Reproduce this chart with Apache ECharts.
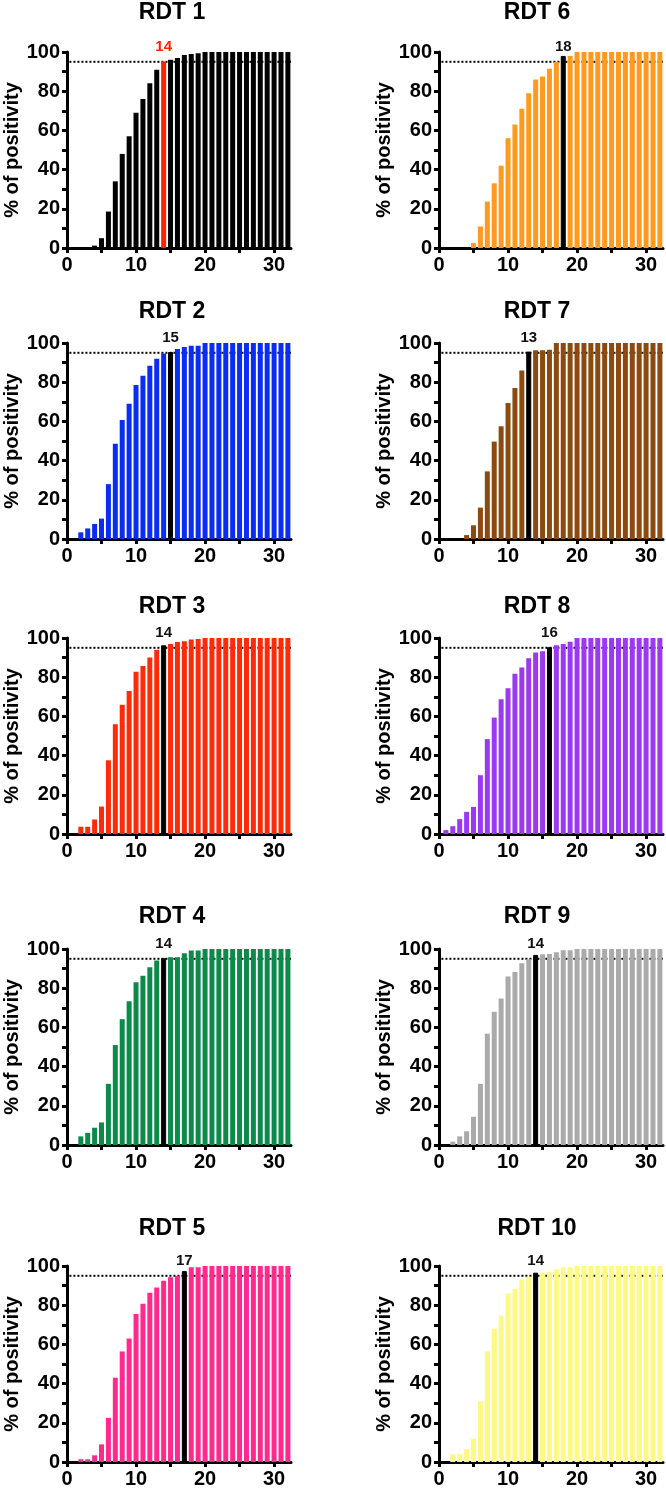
<!DOCTYPE html>
<html><head><meta charset="utf-8">
<script src="https://cdn.jsdelivr.net/npm/echarts@6/dist/echarts.min.js"></script>
<style>html,body{margin:0;padding:0;background:#fff}#c{width:666px;height:1491px}</style>
</head><body><div id="c"></div>
<script>
// ---- data ----
const days = [1,2,3,4,5,6,7,8,9,10,11,12,13,14,15,16,17,18,19,20,21,22,23,24,25,26,27,28,29,30,31,32];
const rdt1  = [0,0,0,1.2,5,18.6,34,48,57,69,76,84,91,95.2,96,97,98.5,99,99.3,100,100,100,100,100,100,100,100,100,100,100,100,100];
const rdt2  = [0,3.4,5.4,7.7,10.4,28,48.6,60.7,69,78.6,83.3,88.4,92,94.6,95.4,97,98,98.6,98.6,100,100,100,100,100,100,100,100,100,100,100,100,100];
const rdt3  = [0,3.7,3.7,7.4,14,37.6,56,66,73,82.8,85.7,90,94,96.3,97,98,98.3,99.2,99.5,100,100,100,100,100,100,100,100,100,100,100,100,100];
const rdt4  = [0,4.4,6.2,8.8,11.5,31.2,51,64.2,73.4,83,86.3,90.7,94.1,95.3,95.8,95.8,97.8,99.2,99.2,100,100,100,100,100,100,100,100,100,100,100,100,100];
const rdt5  = [0,1.4,1.4,3.4,9,22.5,43,56.4,63,75.5,80.7,86.4,89,92.5,94.2,94.9,97.4,99.3,99.3,100,100,100,100,100,100,100,100,100,100,100,100,100];
const rdt6  = [0,0,0,0,2.5,11,23.7,33,42,56,63,71,79,86,87.5,91.5,94.9,98,98,100,100,100,100,100,100,100,100,100,100,100,100,100];
const rdt7  = [0,0,0,2,7,16,34.5,49.7,57.5,69.4,77,86,95.6,96.3,96.3,96.6,100,100,100,100,100,100,100,100,100,100,100,100,100,100,100,100];
const rdt8  = [2,4,7.6,11.3,13.8,30,48.4,59.4,68.8,74.4,81.8,85,89.7,92.6,93.3,95.3,96.3,97,98.1,100,100,100,100,100,100,100,100,100,100,100,100,100];
const rdt9  = [0,1.7,4.4,7,14.4,31.2,56.8,68,74.7,86,88.3,92.7,94.8,97,97.3,97.5,98.3,99.3,99.3,100,100,100,100,100,100,100,100,100,100,100,100,100];
const rdt10 = [0,4,4,6.6,12,31,56.4,68,74.8,86,88.4,92.8,94.5,96.6,96.6,97,98.3,99.3,99.3,100,100,100,100,100,100,100,100,100,100,100,100,100];
const titles = ['RDT 1','RDT 2','RDT 3','RDT 4','RDT 5','RDT 6','RDT 7','RDT 8','RDT 9','RDT 10'];
const cutoffDays = [14,15,14,14,17,18,13,16,14,14];
const threshold = 95;
const xTickValues = [0,5,10,15,20,25,30];
const xLabelValues = [0,10,20,30];
const yTickValues = [0,10,20,30,40,50,60,70,80,90,100];
const yLabelValues = [0,20,40,60,80,100];
const yName = '% of positivity';

// ---- styling ----
const allValues = [rdt1,rdt2,rdt3,rdt4,rdt5,rdt6,rdt7,rdt8,rdt9,rdt10];
const barColors = ['#000000','#0a2df5','#ff2a08','#0b8a4a','#ff2a8c','#ff9a1e','#8a4a10','#9a38f2','#aaaaaa','#fdf982'];
const hiColors  = ['#ff2200','#000','#000','#000','#000','#000','#000','#000','#000','#000'];
const FONT = '"Liberation Sans", Arial, Helvetica, sans-serif';
const colLeft = [67, 439];
const colTitleX = [172, 537];
const rowTop = [52, 343, 638, 949, 1266];
const rowTitleY = [13, 311.5, 606.5, 916.5, 1229];
const GW = 224, GH = 196, XMAX = 32.45;

const grids = [], xAxes = [], yAxes = [], series = [], graphics = [];
for (let i = 0; i < 10; i++) {
  const col = i < 5 ? 0 : 1, row = i % 5;
  grids.push({left: colLeft[col], top: rowTop[row], width: GW, height: GH, containLabel: false});
  xAxes.push({
    type: 'value', gridIndex: i, min: 0, max: XMAX,
    axisLine: {show: true, onZero: false, lineStyle: {color: '#000', width: 3}},
    axisTick: {show: true, customValues: xTickValues, length: 5, lineStyle: {color: '#000', width: 3}},
    axisLabel: {customValues: xLabelValues, margin: 7, color: '#000', fontSize: 20, fontWeight: 'bold', fontFamily: FONT,
      formatter: v => (v % 10 === 0 ? String(v) : '')},
    splitLine: {show: false}
  });
  yAxes.push({
    type: 'value', gridIndex: i, min: 0, max: 100, interval: 10,
    name: yName, nameLocation: 'middle', nameGap: 44, nameRotate: 90,
    nameTextStyle: {color: '#000', fontSize: 20, fontWeight: 'bold', fontFamily: FONT},
    axisLine: {show: true, onZero: false, lineStyle: {color: '#000', width: 3}},
    axisTick: {show: true, customValues: yTickValues, length: 5, lineStyle: {color: '#000', width: 3}},
    axisLabel: {customValues: yLabelValues, margin: 7, color: '#000', fontSize: 20, fontWeight: 'bold', fontFamily: FONT,
      formatter: v => (v % 20 === 0 ? String(v) : '')},
    splitLine: {show: false}
  });
  const vals = allValues[i];
  const data = days.map((d, k) => {
    if (d === cutoffDays[i]) {
      return {value: [d, vals[k]], itemStyle: {color: hiColors[i], borderColor: hiColors[i], borderWidth: i === 0 ? 0 : 1}};
    }
    return [d, vals[k]];
  });
  series.push({
    type: 'line', xAxisIndex: i, yAxisIndex: i, z: 1, symbol: 'none', silent: true,
    data: [[0.35, threshold], [XMAX, threshold]],
    lineStyle: {color: '#000', width: 2, type: [2, 2]}
  });
  series.push({
    type: 'bar', xAxisIndex: i, yAxisIndex: i, z: 2, barWidth: 5,
    itemStyle: {color: barColors[i]}, data: data
  });
  series.push({
    type: 'scatter', xAxisIndex: i, yAxisIndex: i, z: 3, symbolSize: 2, silent: true, clip: false,
    itemStyle: {color: 'rgba(0,0,0,0)', opacity: 1},
    data: [[cutoffDays[i], 100]],
    label: {show: true, position: 'top', distance: -3, formatter: String(cutoffDays[i]),
      color: i === 0 ? '#ff2200' : '#111', fontSize: 15, fontWeight: 'bold', fontFamily: FONT}
  });
  graphics.push({type: 'text', x: colTitleX[col], y: rowTitleY[row],
    style: {text: titles[i], fill: '#000', font: 'bold 23px ' + FONT, align: 'center', verticalAlign: 'middle'}});
}

const chart = echarts.init(document.getElementById('c'), null, {renderer: 'canvas'});
chart.setOption({
  animation: false, backgroundColor: '#fff',
  grid: grids, xAxis: xAxes, yAxis: yAxes, series: series, graphic: graphics
});
</script></body></html>
